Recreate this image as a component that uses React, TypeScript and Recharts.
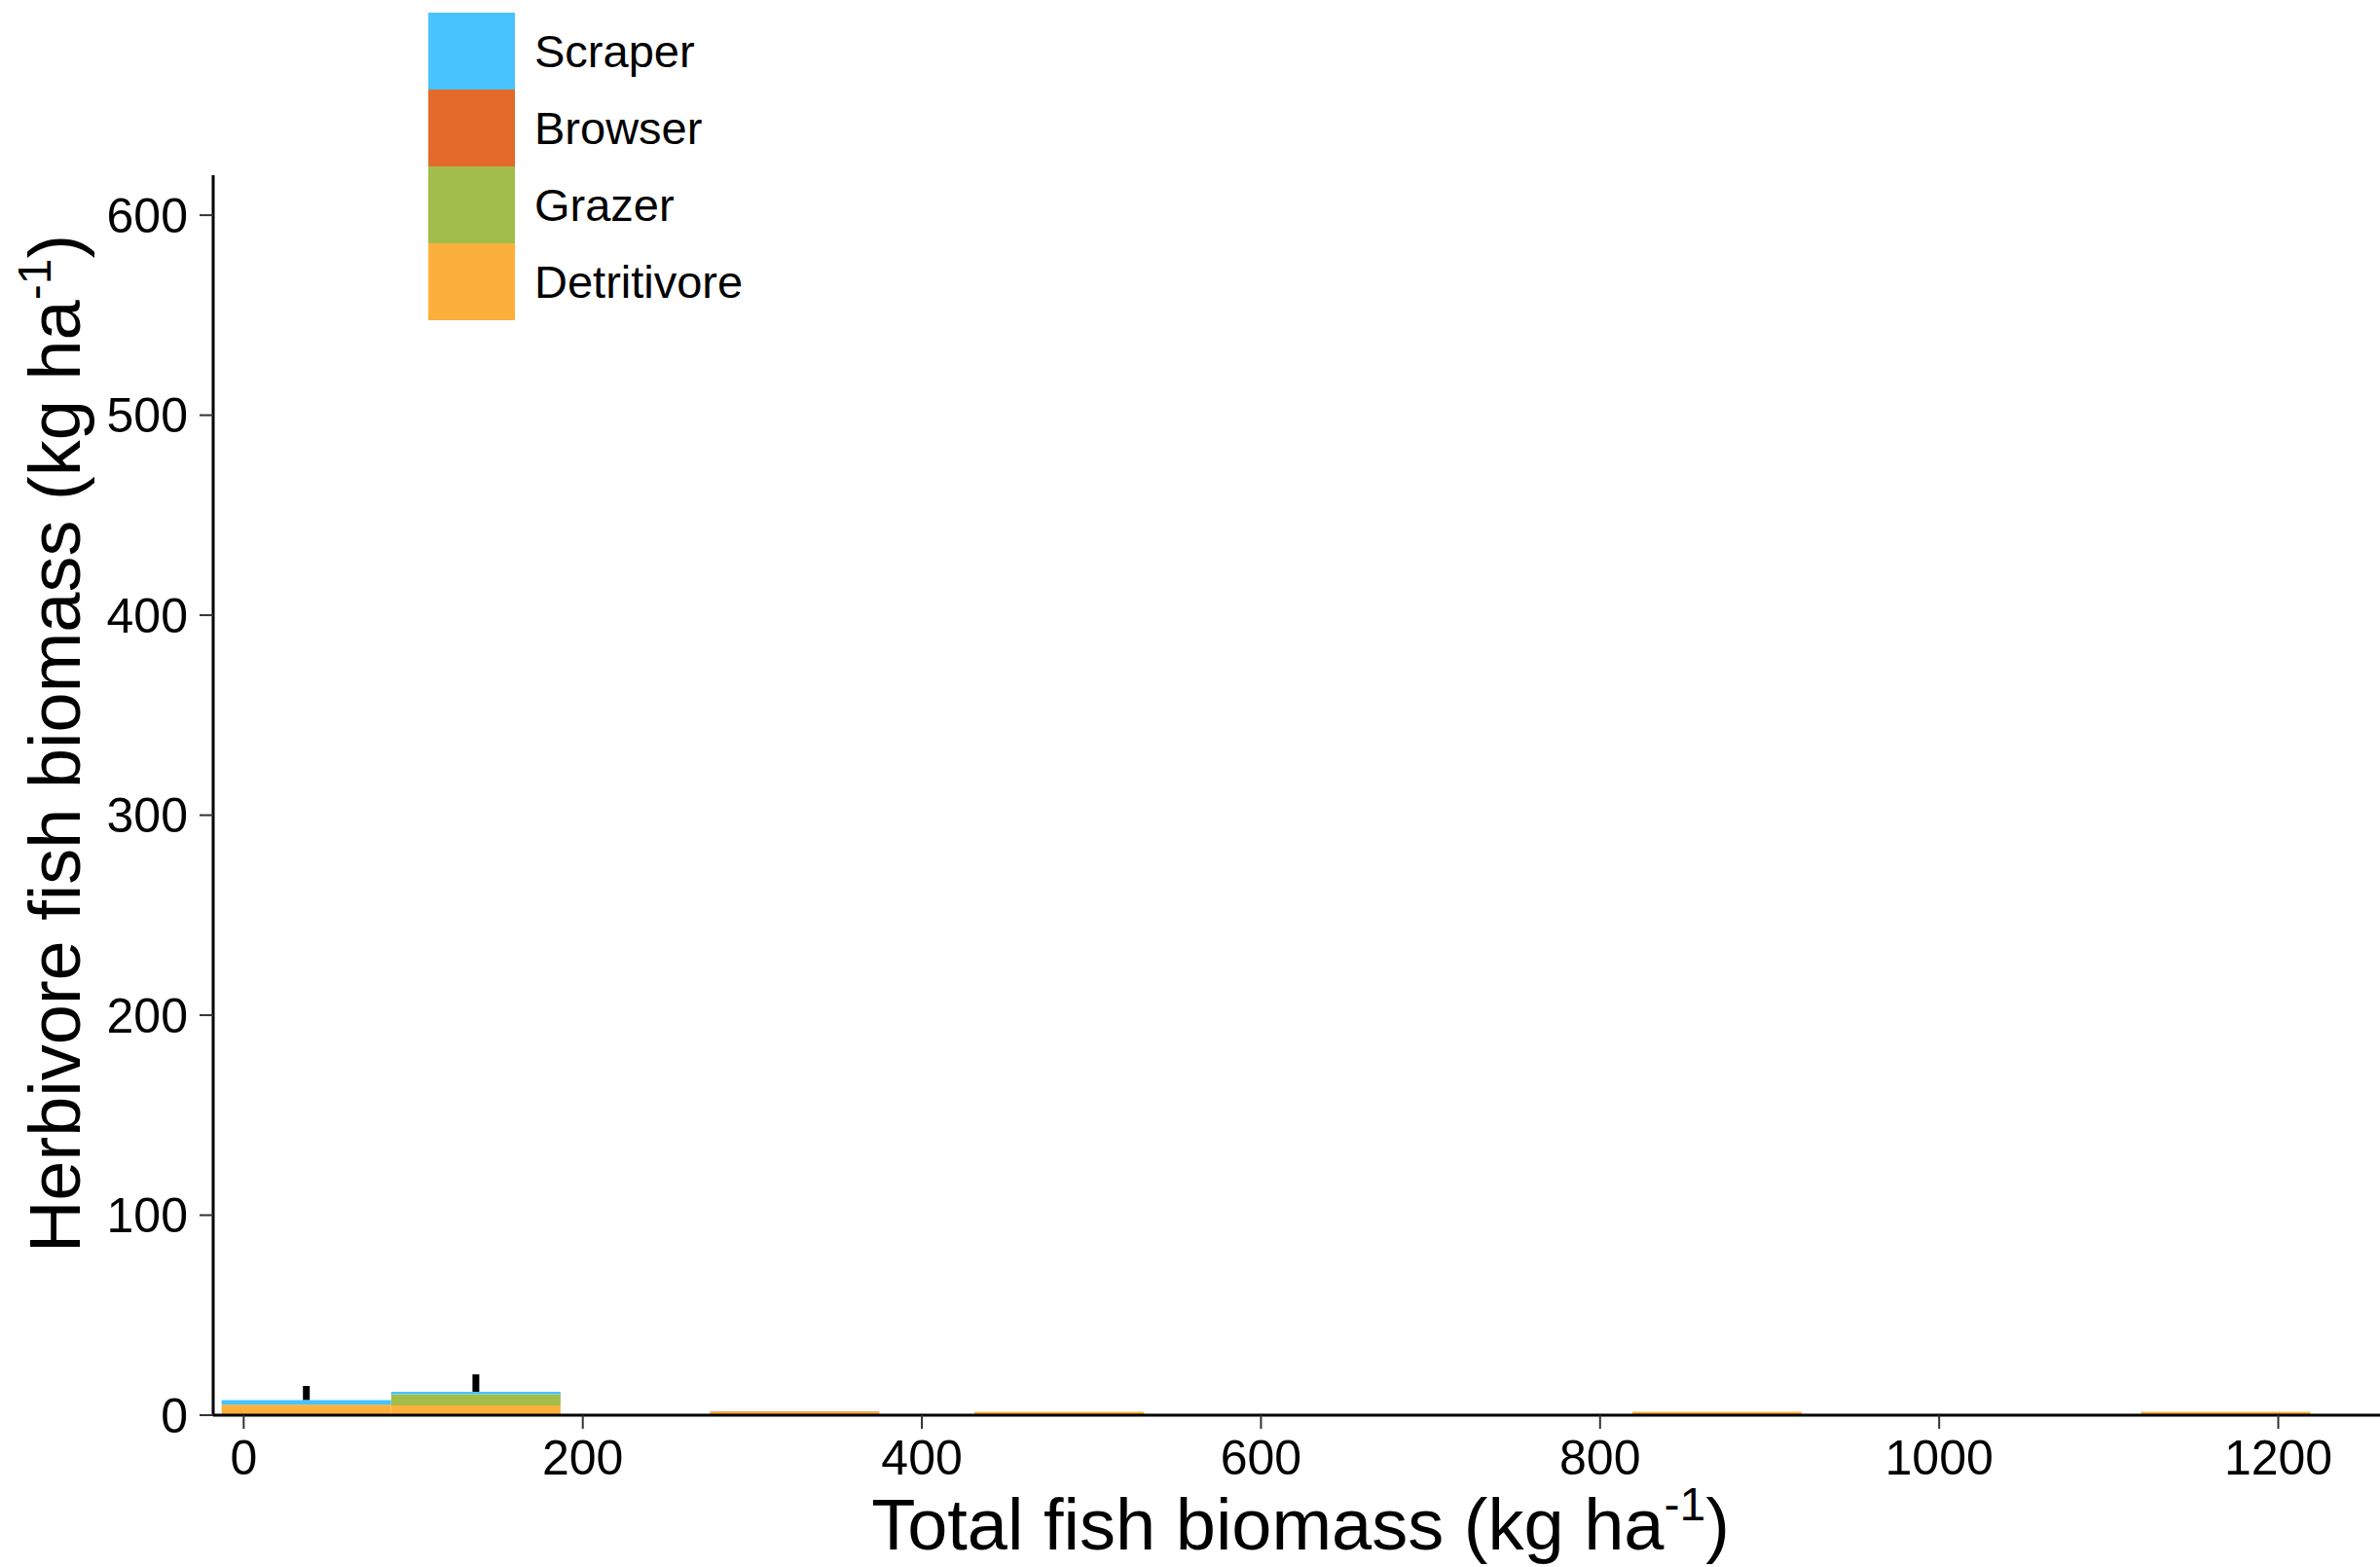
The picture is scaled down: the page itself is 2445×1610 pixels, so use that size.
import React from "react";
import { ComposedChart, Bar, XAxis, YAxis, Legend, ErrorBar, Label } from "recharts";

// bin midpoints of total fish biomass (kg/ha)
const binMid = [37, 137, 325, 481, 869, 1169];

// stacked herbivore biomass per functional group (kg/ha)
const detritivore = [5.2, 4.9, 1.7, 1.7, 1.7, 1.7];
const grazer = [0, 5.6, 0, 0, 0, 0];
const browser = [0, 0, 0.3, 0, 0, 0];
const scraper = [2.4, 1.2, 0, 0, 0, 0];
// upper error above the stacked total
const upperErr = [7.0, 8.7, 0, 0, 0, 0];

const xTicks = [0, 200, 400, 600, 800, 1000, 1200];
const yTicks = [0, 100, 200, 300, 400, 500, 600];

const groups = [
  { key: "scraper", name: "Scraper", color: "#48c3fb" },
  { key: "browser", name: "Browser", color: "#e46a29" },
  { key: "grazer", name: "Grazer", color: "#a2bd4a" },
  { key: "detritivore", name: "Detritivore", color: "#fcb03b" },
];

const data = binMid.map((x, i) => ({
  x,
  detritivore: detritivore[i],
  grazer: grazer[i],
  browser: browser[i],
  scraper: scraper[i],
  err: [0, upperErr[i]],
}));

const FONT = "'Liberation Sans', Arial, sans-serif";

const tickStyle = { fontSize: 50, fill: "#000", fontFamily: FONT };

function LegendBox() {
  return (
    <div style={{ fontFamily: FONT }}>
      {groups.map((g) => (
        <div key={g.key} style={{ display: "flex", alignItems: "center", height: 79 }}>
          <div style={{ width: 89, height: 79, background: g.color }} />
          <span style={{ marginLeft: 20, fontSize: 47, color: "#000" }}>{g.name}</span>
        </div>
      ))}
    </div>
  );
}

function XTitle() {
  return (
    <text x={1336} y={1592} textAnchor="middle" fontSize={74} fontFamily={FONT} fill="#000">
      Total fish biomass (kg ha
      <tspan dy={-30} fontSize={48}>-1</tspan>
      <tspan dy={30} fontSize={74}>)</tspan>
    </text>
  );
}

function YTitle() {
  return (
    <text
      x={82}
      y={764}
      transform="rotate(-90, 82, 764)"
      textAnchor="middle"
      fontSize={74}
      fontFamily={FONT}
      fill="#000"
    >
      Herbivore fish biomass (kg ha
      <tspan dy={-30} fontSize={48}>-1</tspan>
      <tspan dy={30} fontSize={74}>)</tspan>
    </text>
  );
}

export default function App() {
  // bottom of stack first, scraper on top
  const stackOrder = [...groups].reverse();
  return (
    <div style={{ position: "absolute", left: 0, top: 0, width: 2445, height: 1610, background: "#fff" }}>
      <ComposedChart
        width={2445}
        height={1610}
        data={data}
        barCategoryGap={0}
        barGap={0}
        margin={{ top: 180, right: 0, bottom: 0, left: 0 }}
      >
        <XAxis
          type="number"
          dataKey="x"
          domain={[-18, 1260]}
          ticks={xTicks}
          allowDataOverflow
          height={156}
          tick={tickStyle}
          tickSize={14}
          tickMargin={11}
          axisLine={{ stroke: "#000", strokeWidth: 3 }}
          tickLine={{ stroke: "#333", strokeWidth: 2 }}
        >
          <Label content={<XTitle />} />
        </XAxis>
        <YAxis
          type="number"
          domain={[0, 620]}
          ticks={yTicks}
          allowDataOverflow
          width={219}
          tick={tickStyle}
          tickSize={14}
          tickMargin={12}
          axisLine={{ stroke: "#000", strokeWidth: 3 }}
          tickLine={{ stroke: "#333", strokeWidth: 2 }}
        >
          <Label content={<YTitle />} />
        </YAxis>
        <Legend
          content={() => <LegendBox />}
          layout="horizontal"
          verticalAlign="middle"
          align="center"
          wrapperStyle={{ top: 13, left: 440, width: 420 }}
        />
        {stackOrder.map((g, idx) => (
          <Bar
            key={g.key}
            dataKey={g.key}
            name={g.name}
            stackId="herb"
            fill={g.color}
            barSize={174}
            isAnimationActive={false}
          >
            {idx === stackOrder.length - 1 && (
              <ErrorBar dataKey="err" width={0} stroke="#000" strokeWidth={7} direction="y" />
            )}
          </Bar>
        ))}
      </ComposedChart>
    </div>
  );
}
